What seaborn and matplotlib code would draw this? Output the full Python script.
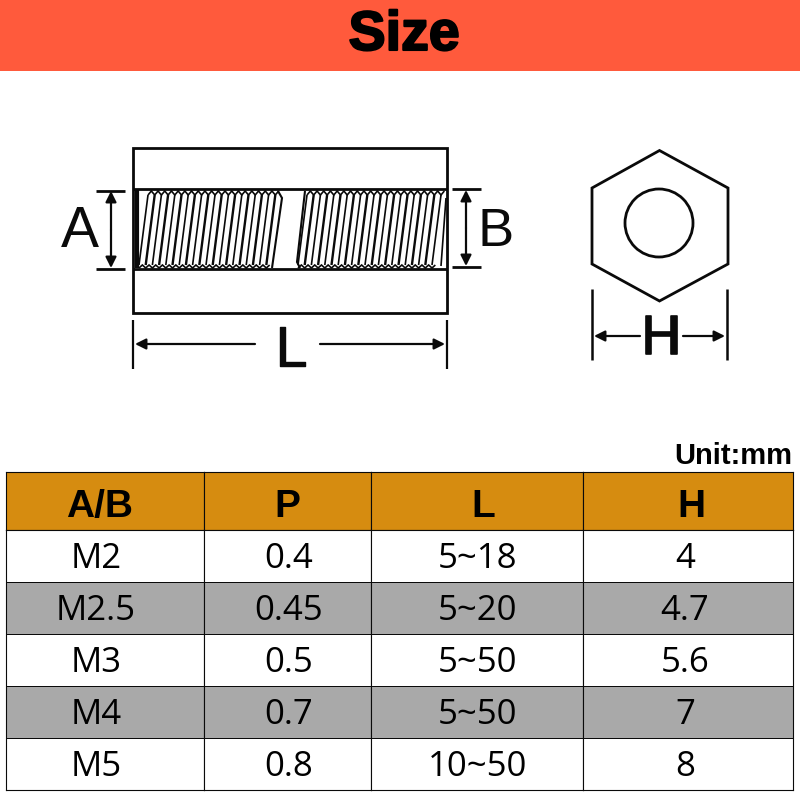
import numpy as np
import seaborn as sns
import matplotlib
matplotlib.use("Agg")
import matplotlib.pyplot as plt
import matplotlib.patheffects as pe
from matplotlib.colors import ListedColormap
from matplotlib.patches import Rectangle, Circle, Polygon

# table content
headers = ["A/B", "P", "L", "H"]
col_ab = ["M2", "M2.5", "M3", "M4", "M5"]
col_p = ["0.4", "0.45", "0.5", "0.7", "0.8"]
col_l = ["5~18", "5~20", "5~50", "5~50", "10~50"]
col_h = ["4", "4.7", "5.6", "7", "8"]
columns = [col_ab, col_p, col_l, col_h]

# table grid in pixels
col_edges = [6, 204, 371, 583, 793]
row_top, row_head, row_bottom = 472, 530, 790
header_shift = [-5, 0, 6, 3]
body_shift = [-9, 1, 1, -3]

ORANGE = "#D68C10"
GREY = "#A9A9A9"
RED = "#FF5A3C"
INK = "#0a0a0a"

sns.set_theme(style="white")
plt.rcParams["font.family"] = ["Liberation Sans", "DejaVu Sans"]

fig = plt.figure(figsize=(8, 8), dpi=100)
ax = fig.add_axes([0, 0, 1, 1])
ax.set_xlim(0, 800)
ax.set_ylim(800, 0)
ax.axis("off")


def px_rect(x0, x1, y0, y1):
    return [x0 / 800, 1 - y1 / 800, (x1 - x0) / 800, (y1 - y0) / 800]


def line(xs, ys, lw=2.0):
    ax.plot(xs, ys, color=INK, lw=lw, solid_capstyle="butt", solid_joinstyle="miter")


def arrow(x0, y0, x1, y1, style="-|>"):
    ax.annotate("", xy=(x1, y1), xytext=(x0, y0),
                arrowprops=dict(arrowstyle=style, color=INK, lw=1.6, mutation_scale=16,
                                shrinkA=0, shrinkB=0))


def bold_label(x, y, s, size, width=1.0):
    t = ax.text(x, y, s, fontsize=size, ha="center", va="center", color=INK)
    t.set_path_effects([pe.withStroke(linewidth=width, foreground=INK)])


# title band
ax.add_patch(Rectangle((0, 0), 800, 71, color=RED, lw=0))
t = ax.text(404, 36, "Size", fontsize=40, fontweight="bold", ha="center", va="center", color="black")
t.set_path_effects([pe.withStroke(linewidth=1.5, foreground="black")])
ax.text(792, 456, "Unit:mm", fontsize=21, fontweight="bold", ha="right", va="center", color="black")

# side view
ax.add_patch(Rectangle((133, 148), 314, 165, fill=False, ec=INK, lw=2))
line([133, 447], [189, 189])
line([133, 447], [269, 269])

pitch = 6.7
thread_left = np.arange(139, 270, pitch)
thread_right = np.arange(298, 438, pitch)
for xs in (thread_left, thread_right):
    for i, x in enumerate(xs):
        line([x, x + 9], [265, 195], lw=1.7 if i % 2 else 1.2)
    zig_x = np.arange(xs[0], xs[-1] + pitch, pitch / 2)
    zig_top = [191 if i % 2 else 195 for i in range(len(zig_x))]
    zig_bot = [265 if i % 2 else 268 for i in range(len(zig_x))]
    line(zig_x + 9, zig_top, lw=1.2)
    line(zig_x, zig_bot, lw=1.2)
line([136.5, 136.5], [190, 268], lw=3)
line([278, 282, 272], [191, 198, 268], lw=1.5)
line([305, 297, 300], [191, 262, 268], lw=1.5)
line([446, 441], [198, 266], lw=1.2)

# A and B dimensions
line([96, 125], [190.5, 190.5], lw=2)
line([96, 125], [269, 269], lw=2)
arrow(111, 230, 111, 191)
arrow(111, 230, 111, 268)
line([452, 481], [189, 189], lw=2)
line([452, 481], [267, 267], lw=2)
arrow(466, 228, 466, 190)
arrow(466, 228, 466, 266)
ax.text(80, 232, "A", fontsize=41, ha="center", va="center", color=INK)
ax.text(496, 232, "B", fontsize=39, ha="center", va="center", color=INK)

# L dimension
line([133, 133], [320, 369], lw=1.6)
line([447, 447], [320, 369], lw=1.6)
arrow(255, 344, 135, 344)
arrow(320, 344, 445, 344)
bold_label(291, 351, "L", 41, 1.0)

# end view
ax.add_patch(Polygon([(659.5, 150.5), (728, 188), (728, 264), (659.5, 301), (592, 264), (592, 188)],
                     closed=True, fill=False, ec=INK, lw=2))
ax.add_patch(Circle((659, 223), 34, fill=False, ec=INK, lw=2))
line([592, 592], [289, 360], lw=1.8)
line([727, 727], [289, 360], lw=1.8)
arrow(640, 336, 594, 336)
arrow(683, 336, 725, 336)
bold_label(661, 340, "H", 40, 1.2)

# table, one heatmap per column so the widths can differ
head_cmap = ListedColormap([ORANGE])
body_cmap = ListedColormap(["white", GREY])
for i, col in enumerate(columns):
    x0, x1 = col_edges[i], col_edges[i + 1]

    ax_h = fig.add_axes(px_rect(x0, x1, row_top, row_head))
    sns.heatmap(np.zeros((1, 1)), ax=ax_h, cmap=head_cmap, cbar=False, vmin=0, vmax=1,
                annot=np.array([[headers[i]]]), fmt="",
                annot_kws=dict(fontsize=28, fontweight="bold", color="black",
                               family="Liberation Sans"),
                xticklabels=False, yticklabels=False)
    ax_b = fig.add_axes(px_rect(x0, x1, row_head, row_bottom))
    shade = np.array([[r % 2] for r in range(len(col))])
    sns.heatmap(shade, ax=ax_b, cmap=body_cmap, cbar=False, vmin=0, vmax=1,
                annot=np.array(col).reshape(-1, 1), fmt="", linewidths=0.6, linecolor=INK,
                annot_kws=dict(fontsize=25, color="#111111", family="Open Sans"),
                xticklabels=False, yticklabels=False)

    for a, shift, down in ((ax_h, header_shift[i], 6 / 58), (ax_b, body_shift[i], 3 / 52)):
        for spine in a.spines.values():
            spine.set_visible(True)
            spine.set_color(INK)
            spine.set_linewidth(0.8)
        for txt in a.texts:
            txt.set_color("black")
            px, py = txt.get_position()
            txt.set_position((px + shift / (x1 - x0), py + down))

fig.savefig("out.png", dpi=100)
